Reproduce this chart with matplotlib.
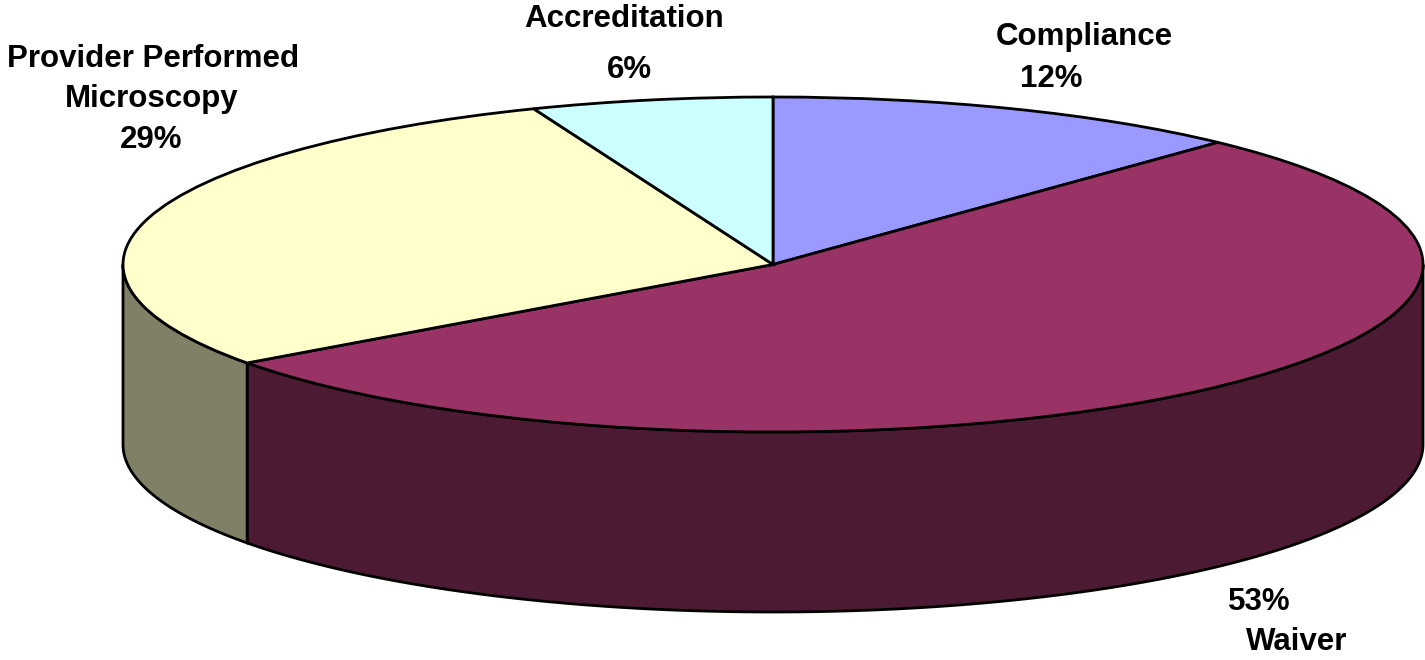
import numpy as np
import matplotlib.pyplot as plt

plt.rcParams['font.family'] = ['Liberation Sans', 'DejaVu Sans']

# data
categories = ['Compliance', 'Waiver', 'Provider Performed Microscopy', 'Accreditation']
shares = [12, 53, 29, 6]
top_colors = ['#9999FF', '#993366', '#FFFFCC', '#CCFFFF']
side_colors = ['#4D4D80', '#4D1A33', '#808066', '#668080']

# label lines: (text, x px, baseline y px from top)
label_lines = [
    ('Accreditation', 624, 27), ('6%', 629, 78),
    ('Compliance', 1084, 45), ('12%', 1051, 87),
    ('Provider Performed', 153, 67), ('Microscopy', 152, 107), ('29%', 151, 148),
    ('53%', 1259, 610), ('Waiver', 1297, 650),
]

W, H = 1425, 660
cx, cy, rx, ry, depth = 773, 264.5, 650, 167.5, 180

fig = plt.figure(figsize=(W / 100, H / 100), dpi=100)
ax = fig.add_axes([0, 0, 1, 1])

# side walls (only the front half, 180..360 deg, is visible)
d = depth / ry
cum = np.cumsum([0] + shares)
for i in range(len(shares)):
    t1 = 90 - 3.6 * cum[i + 1]
    t2 = 90 - 3.6 * cum[i]
    for k in (-360, 0, 360):
        lo, hi = max(t1 + k, 180), min(t2 + k, 360)
        if hi <= lo:
            continue
        th = np.radians(np.linspace(lo, hi, 200))
        xs = np.concatenate([np.cos(th), np.cos(th[::-1])])
        ys = np.concatenate([np.sin(th), np.sin(th[::-1]) - d])
        ax.fill(xs, ys, facecolor=side_colors[i], edgecolor='black', linewidth=2)

# top face
ax.pie(shares, colors=top_colors, startangle=90, counterclock=False,
       wedgeprops=dict(edgecolor='black', linewidth=2))

ax.set_aspect('auto')
ax.set_xlim(-cx / rx, (W - cx) / rx)
ax.set_ylim(-(H - cy) / ry, cy / ry)
ax.axis('off')

for txt, px, py in label_lines:
    ax.annotate(txt, xy=(px, H - py), xycoords='figure pixels',
                ha='center', va='baseline', fontsize=22.5, fontweight='bold')

fig.savefig('out.png', dpi=100)
